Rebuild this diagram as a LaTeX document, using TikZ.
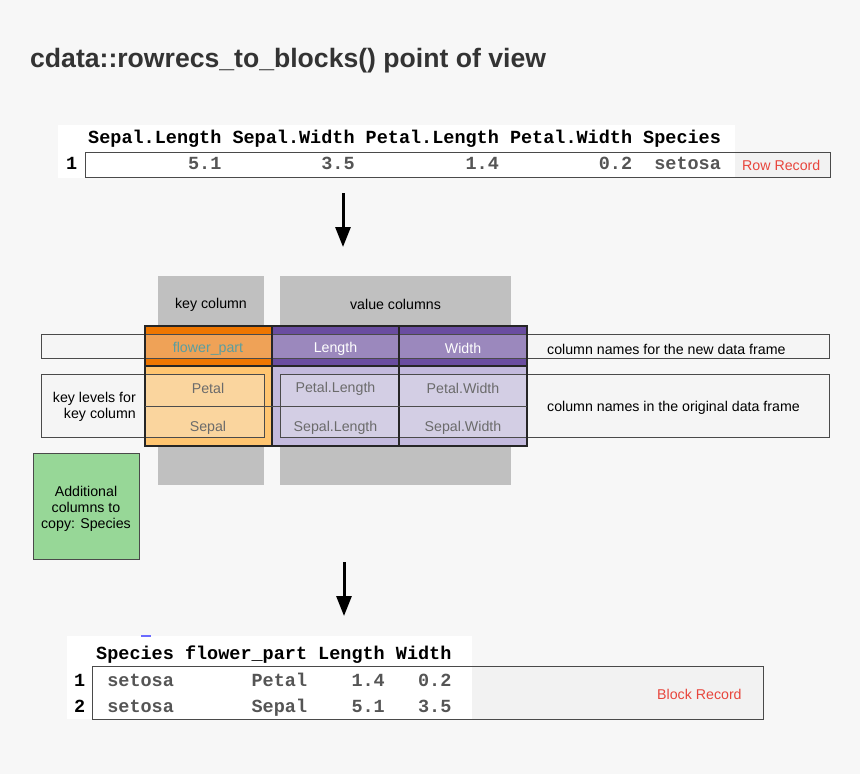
\documentclass[tikz,border=0pt]{standalone}
\usepackage{fontspec}
\setmainfont{Liberation Sans}
\setmonofont{Liberation Mono}
\usetikzlibrary{arrows.meta}
\definecolor{bg}{HTML}{F7F7F7}
\definecolor{boxfill}{HTML}{F2F2F2}
\definecolor{edge}{HTML}{4A4A4A}
\definecolor{titlec}{HTML}{333333}
\definecolor{graybl}{HTML}{C0C0C0}
\definecolor{orgdark}{HTML}{EE7600}
\definecolor{orglight}{HTML}{FFC570}
\definecolor{purdark}{HTML}{6A4DA0}
\definecolor{purlight}{HTML}{C3BADD}
\definecolor{tealc}{HTML}{5A9EA0}
\definecolor{cellc}{HTML}{6B6B6B}
\definecolor{redc}{HTML}{E8453C}
\definecolor{greenc}{HTML}{97D797}
\definecolor{valc}{HTML}{555555}
\definecolor{bluec}{HTML}{6B6BFF}
\begin{document}
\begin{tikzpicture}[x=1pt,y=-1pt,
  lab/.style={font=\fontsize{14.2}{16}\selectfont, inner sep=0pt, yshift=-1.5pt},
  mono/.style={font=\fontsize{18.5}{20}\selectfont\ttfamily\bfseries, inner sep=0pt, anchor=base west},
  val/.style={mono, text=valc},
  band/.style={fill=boxfill, fill opacity=0.36, draw=edge, line width=0.9pt},
  colline/.style={draw=black!85, line width=1.3pt},
  bigarrow/.style={line width=3pt, -{Triangle[width=15pt,length=20pt]}},
]
\useasboundingbox (0,0) rectangle (860,774);
\fill[bg] (0,0) rectangle (860,774);

% title
\node[anchor=base west, inner sep=0pt, text=titlec,
      font=\fontsize{26.6}{30}\selectfont\bfseries] (title) at (30,67)
      {cdata::rowrecs\_to\_blocks() point of view};

% ---------- top table ----------
\fill[boxfill] (85,152) rectangle (830,177);
\fill[white] (58,125) rectangle (735,178);
\draw[edge, line width=0.9pt] (85,152) rectangle (830,177);
\def\xa{65.8}\def\cw{11.1}
\node[mono] (th1) at ({\xa+\cw*2},143.5) {Sepal.Length};
\node[mono] (th2) at ({\xa+\cw*15},143.5) {Sepal.Width};
\node[mono] (th3) at ({\xa+\cw*27},143.5) {Petal.Length};
\node[mono] (th4) at ({\xa+\cw*40},143.5) {Petal.Width};
\node[mono] (th5) at ({\xa+\cw*52},143.5) {Species};
\node[mono] (tr0) at ({\xa},169.5) {1};
\node[val] (tr1) at ({\xa+\cw*11},169.5) {5.1};
\node[val] (tr2) at ({\xa+\cw*23},169.5) {3.5};
\node[val] (tr3) at ({\xa+\cw*36},169.5) {1.4};
\node[val] (tr4) at ({\xa+\cw*48},169.5) {0.2};
\node[val] (tr5) at ({\xa+\cw*53},169.5) {setosa};
\node[lab, anchor=west, text=redc] (rowrec) at (742,164) {Row Record};

% arrows
\coordinate (a1s) at (343,193);
\coordinate (a1e) at (343,247);
\draw[bigarrow] (a1s) -- (a1e);
\coordinate (a2s) at (344,562);
\coordinate (a2e) at (344,616);
\draw[bigarrow] (a2s) -- (a2e);

% ---------- middle diagram ----------
\fill[graybl] (158,276) rectangle (264,485);
\fill[graybl] (280,276) rectangle (511,485);
\node[lab] (keycol) at (211,303) {key column};
\node[lab] (valcols) at (395.5,303) {value columns};

% columns
\fill[orgdark] (145,326) rectangle (272,366);
\fill[orglight] (145,366) rectangle (272,446);
\fill[purdark] (272,326) rectangle (527,366);
\fill[purlight] (272,366) rectangle (527,446);

% bands
\draw[band] (41,334) rectangle (829,358);
\draw[band] (41,374) rectangle (264,437);
\draw[band] (280,374) rectangle (829,437);

% column outlines
\draw[colline] (145,326) rectangle (527,446);
\draw[colline] (145,366) -- (527,366);
\draw[colline] (272,326) -- (272,446);
\draw[colline] (399,326) -- (399,446);
\draw[draw=black!70, line width=0.9pt] (145,406) -- (527,406);

% texts in columns
\node[lab, text=tealc] (fp) at (208,347) {flower\_part};
\node[lab, text=white] (len) at (335.5,347) {Length};
\node[lab, text=white] (wid) at (463,347) {Width};
\node[lab, text=cellc] (petal) at (208,387) {Petal};
\node[lab, text=cellc] (sepal) at (208,426) {Sepal};
\node[lab, text=cellc] (pl) at (335.5,387) {Petal.Length};
\node[lab, text=cellc] (pw) at (463,387) {Petal.Width};
\node[lab, text=cellc] (sl) at (335.5,426) {Sepal.Length};
\node[lab, text=cellc] (sw) at (463,426) {Sepal.Width};

\node[lab, anchor=west] (newnames) at (547,347.5) {column names for the new data frame};
\node[lab, anchor=west] (orignames) at (547,406) {column names in the original data frame};
\node[lab, anchor=east, align=right] (keylev) at (136,405) {key levels for\\key column};

% green box
\draw[fill=greenc, draw=edge, line width=0.9pt] (33,453) rectangle (139,559);
\node[lab, align=center] (addl) at (86,507) {Additional\\columns to\\copy: Species};

% ---------- bottom table ----------
\fill[boxfill] (92,666) rectangle (763,719);
\fill[white] (67,636) rectangle (472,719);
\draw[bluec, line width=1.5pt] (141,636) -- (151,636);
\draw[edge, line width=0.9pt] (92,666) rectangle (763,719);
\def\xb{73.8}
\node[mono] (bh1) at ({\xb+\cw*2},659) {Species};
\node[mono] (bh2) at ({\xb+\cw*10},659) {flower\_part};
\node[mono] (bh3) at ({\xb+\cw*22},659) {Length};
\node[mono] (bh4) at ({\xb+\cw*29},659) {Width};
\node[mono] (b1r) at ({\xb},686) {1};
\node[val] (b1a) at ({\xb+\cw*3},686) {setosa};
\node[val] (b1b) at ({\xb+\cw*16},686) {Petal};
\node[val] (b1c) at ({\xb+\cw*25},686) {1.4};
\node[val] (b1d) at ({\xb+\cw*31},686) {0.2};
\node[mono] (b2r) at ({\xb},712) {2};
\node[val] (b2a) at ({\xb+\cw*3},712) {setosa};
\node[val] (b2b) at ({\xb+\cw*16},712) {Sepal};
\node[val] (b2c) at ({\xb+\cw*25},712) {5.1};
\node[val] (b2d) at ({\xb+\cw*31},712) {3.5};
\node[lab, anchor=west, text=redc] (blockrec) at (657,692.5) {Block Record};
\end{tikzpicture}
\end{document}
